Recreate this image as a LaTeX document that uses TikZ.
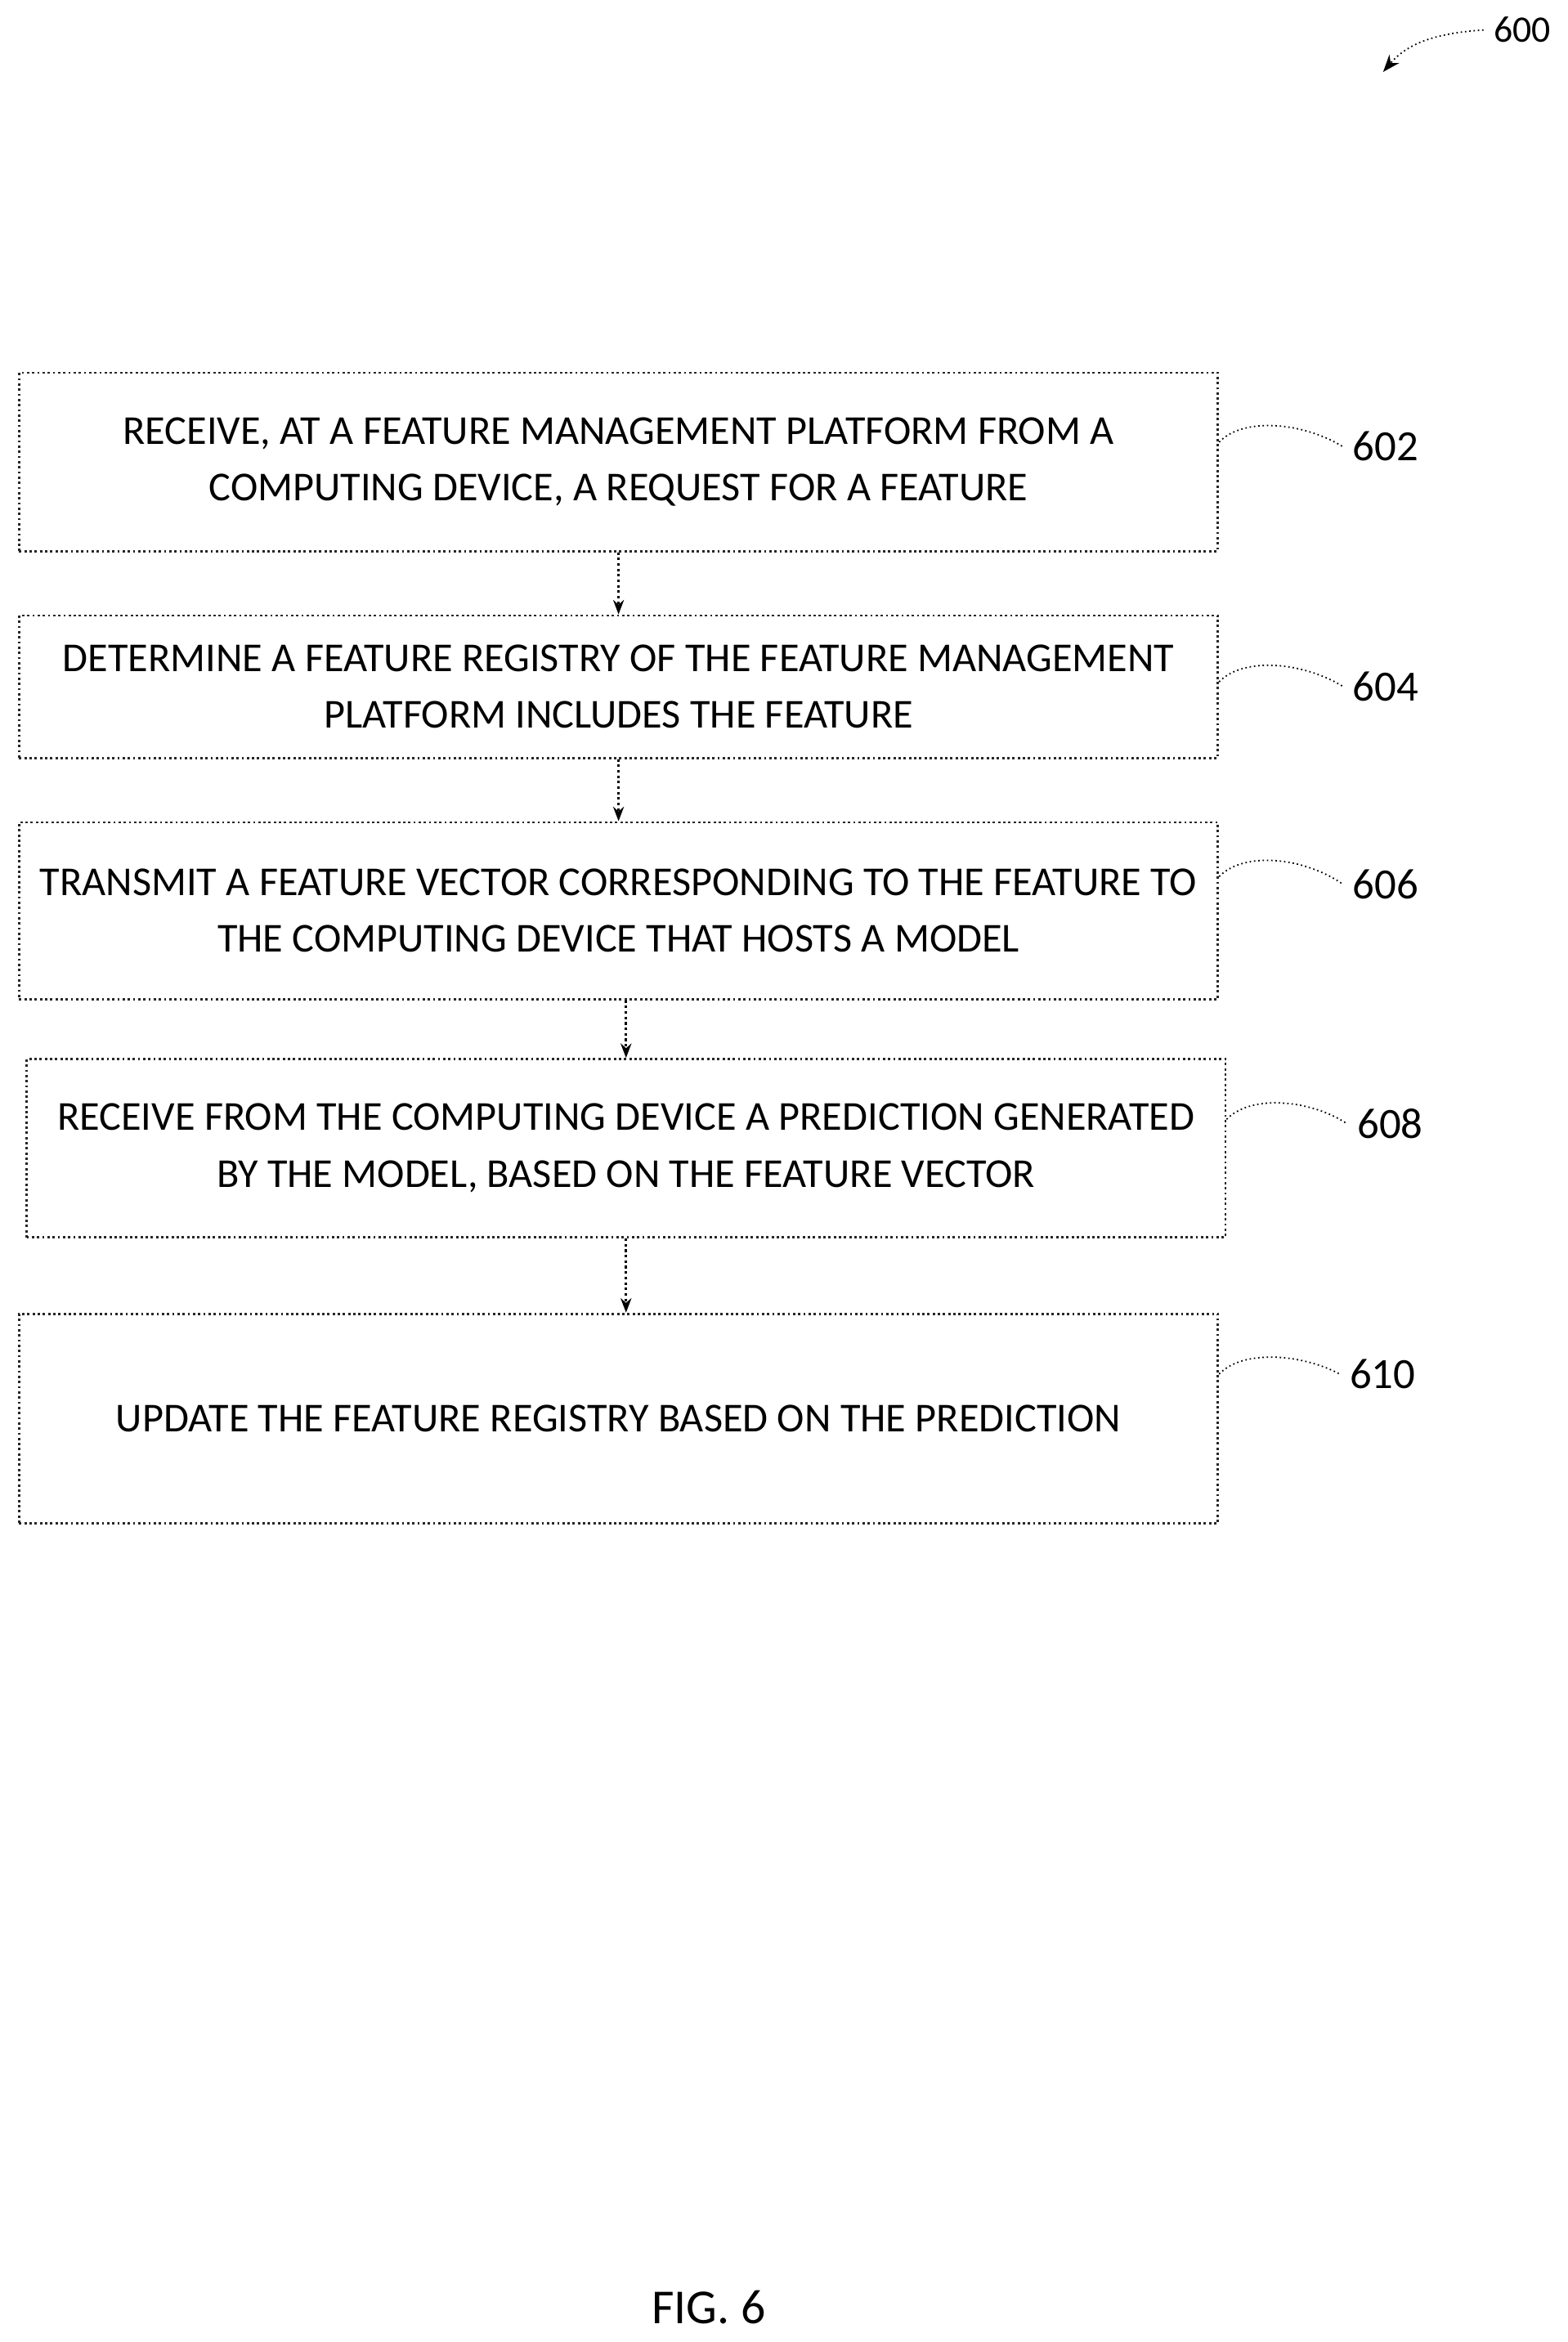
\documentclass[tikz,border=0pt]{standalone}
\usepackage{fontspec}
\setmainfont{Carlito}
\usetikzlibrary{arrows.meta}
\begin{document}
\begin{tikzpicture}[
        x=0.01833cm, y=-0.01833cm,
        stepbox/.style={
            rectangle,
            draw=black!85,
            densely dotted,
            line width=0.8pt,
            align=center,
            font=\fontsize{14.3}{19.8}\selectfont,
            anchor=north west
        },
        arrow/.style={densely dotted,line width=0.9pt,-{Stealth[length=5pt]}},
        lead/.style={densely dotted,line width=0.5pt},
        tag/.style={font=\fontsize{15}{18}\selectfont,anchor=west}
    ]
    \useasboundingbox (0,0) rectangle (1046,1563);

    % Steps
    \node (s602) [stepbox, minimum width=800*0.01833cm, minimum height=119*0.01833cm] at (12,248)
        {RECEIVE, AT A FEATURE MANAGEMENT PLATFORM FROM A\\COMPUTING DEVICE, A REQUEST FOR A FEATURE};
    \node (s604) [stepbox, minimum width=800*0.01833cm, minimum height=95*0.01833cm] at (12,410)
        {DETERMINE A FEATURE REGISTRY OF THE FEATURE MANAGEMENT\\PLATFORM INCLUDES THE FEATURE};
    \node (s606) [stepbox, minimum width=800*0.01833cm, minimum height=118*0.01833cm] at (12,548)
        {TRANSMIT A FEATURE VECTOR CORRESPONDING TO THE FEATURE TO\\THE COMPUTING DEVICE THAT HOSTS A MODEL};
    \node (s608) [stepbox, minimum width=800*0.01833cm, minimum height=119*0.01833cm] at (17,706)
        {RECEIVE FROM THE COMPUTING DEVICE A PREDICTION GENERATED\\BY THE MODEL, BASED ON THE FEATURE VECTOR};
    \node (s610) [stepbox, minimum width=800*0.01833cm, minimum height=140*0.01833cm] at (12,876)
        {UPDATE THE FEATURE REGISTRY BASED ON THE PREDICTION};

    % Arrows
    \draw[arrow] (s602.south) -- (s604.north);
    \draw[arrow] (s604.south) -- (s606.north);
    \draw[arrow] (s606.south -| s608.south) -- (s608.north);
    \draw[arrow] (s608.south) -- (s610.north -| s608.south);

    % Reference numerals
    \node (t602) [tag] at (896,298) {602};
    \node (t604) [tag] at (896,458) {604};
    \node (t606) [tag] at (896,590) {606};
    \node (t608) [tag] at (899,750) {608};
    \node (t610) [tag] at (894,917) {610};
    \draw[lead] (s602.east |- 0,295) .. controls (830,278) and (870,282) .. (t602.west);
    \draw[lead] (s604.east |- 0,455) .. controls (830,438) and (870,442) .. (t604.west);
    \draw[lead] (s606.east |- 0,585) .. controls (830,568) and (870,572) .. (t606.west);
    \draw[lead] (s608.east |- 0,747) .. controls (835,730) and (875,734) .. (t608.west);
    \draw[lead] (s610.east |- 0,917) .. controls (830,900) and (870,904) .. (t610.west);

    \node (t600) [tag, font=\fontsize{13}{16}\selectfont] at (990,20) {600};
    \draw[lead, -{Stealth[length=6pt]}] (t600.west) .. controls (960,22) and (940,28) .. (923,48);

    \node (fig) [font=\fontsize{17}{20}\selectfont] at (473,1540) {FIG. 6};
\end{tikzpicture}
\end{document}
